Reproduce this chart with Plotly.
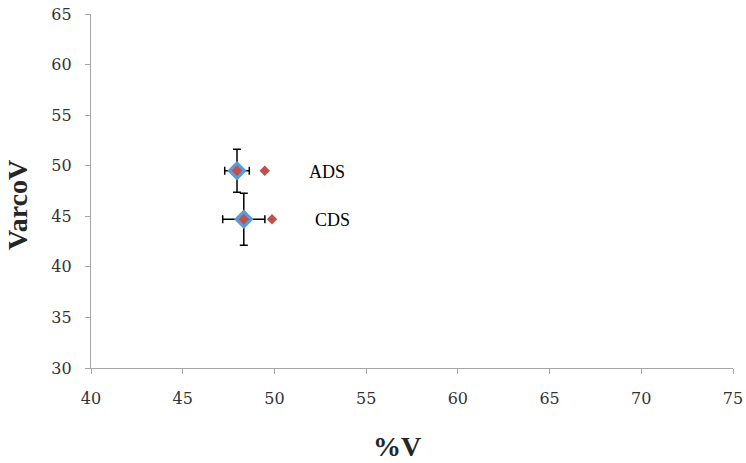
import plotly.graph_objects as go

# Group means with their spread
groups = ["ADS", "CDS"]
pct_v = [47.96, 48.33]
varco_v = [49.5, 44.7]
pct_v_err = [0.67, 1.15]
varco_v_err = [2.12, 2.57]

# Secondary marker positions beside each group
side_x = [49.47, 49.87]
side_y = [49.5, 44.7]

# Label anchor points
label_x = [52.84, 53.15]
label_y = [49.4, 44.65]

x_ticks = [40, 45, 50, 55, 60, 65, 70, 75]
y_ticks = [30, 35, 40, 45, 50, 55, 60, 65]

serif = "DejaVu Serif"
title_serif = "Liberation Serif"
axis_grey = "#a6a6a6"

fig = go.Figure()

fig.add_trace(go.Scatter(
    x=pct_v, y=varco_v, mode="markers",
    marker=dict(symbol="diamond", size=15, color="#5b9bd5"),
    error_x=dict(type="data", array=pct_v_err, color="black", thickness=1.5, width=4),
    error_y=dict(type="data", array=varco_v_err, color="black", thickness=1.5, width=4),
    showlegend=False, hoverinfo="skip",
))
fig.add_trace(go.Scatter(
    x=pct_v, y=varco_v, mode="markers",
    marker=dict(symbol="diamond", size=8, color="#c0504d"),
    showlegend=False,
))
fig.add_trace(go.Scatter(
    x=side_x, y=side_y, mode="markers",
    marker=dict(symbol="diamond", size=8, color="#c0504d"),
    showlegend=False,
))

for name, lx, ly in zip(groups, label_x, label_y):
    fig.add_annotation(x=lx, y=ly, text=name, showarrow=False,
                       font=dict(family=title_serif, size=18, color="black"))

# Axis titles, placed in paper coordinates
fig.add_annotation(x=0.4766, y=-0.223, xref="paper", yref="paper",
                   xanchor="center", yanchor="middle",
                   text="<b>%V</b>", showarrow=False,
                   font=dict(family=title_serif, size=28, color="#262626"))
fig.add_annotation(x=-0.1137, y=0.4605, xref="paper", yref="paper",
                   xanchor="center", yanchor="middle",
                   text="<b>VarcoV</b>", showarrow=False, textangle=-90,
                   font=dict(family=title_serif, size=28, color="#262626"))

fig.update_layout(
    width=746, height=463,
    margin=dict(l=91, r=13, t=14, b=95),
    plot_bgcolor="white", paper_bgcolor="white",
    font=dict(family=serif, size=16, color="#404040"),
)
fig.update_xaxes(
    range=[40, 75], tickvals=x_ticks, showgrid=False, zeroline=False,
    showline=True, linecolor=axis_grey, linewidth=1.3, automargin=False,
    ticks="outside", tickcolor=axis_grey, ticklen=5, ticklabelstandoff=11,
    ticklabeloverflow="allow",
    tickfont=dict(family=serif, size=16, color="#333333"),
)
fig.update_yaxes(
    range=[30, 65], tickvals=y_ticks, showgrid=False, zeroline=False,
    showline=True, linecolor=axis_grey, linewidth=1.3, automargin=False,
    ticks="outside", tickcolor=axis_grey, ticklen=5, ticklabelstandoff=10,
    ticklabeloverflow="allow",
    tickfont=dict(family=serif, size=16, color="#333333"),
)

fig.write_html("out.html")
